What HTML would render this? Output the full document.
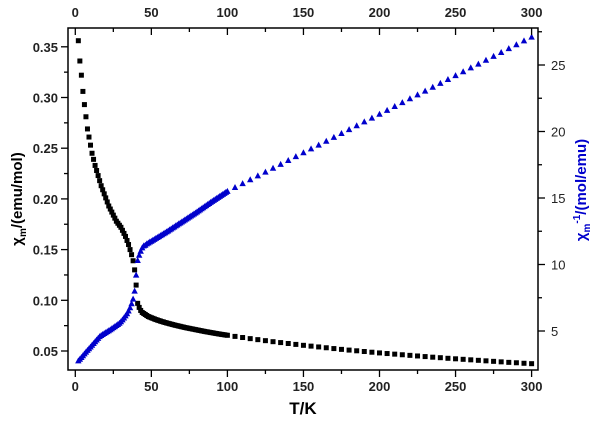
<!DOCTYPE html>
<html><head><meta charset="utf-8"><style>
body{margin:0;background:#fff}
svg{display:block;font-family:"Liberation Sans",Arial,sans-serif}
</style></head><body>
<svg id="chart" width="600" height="422" viewBox="0 0 600 422" xmlns="http://www.w3.org/2000/svg"></svg>
<script>
const chiT=[2,3,4,5,6,7,8,9,10,11,12,13,14,15,16,17,18,19,20,21,22,23,24,25,26,27,28,29,30,31,32,33,34,35,36,37,38,39,40,41,42,43,44,45,46,47,48,49,50,51,52,53,54,55,56,57,58,59,60,61,62,63,64,65,66,67,68,69,70,71,72,73,74,75,76,77,78,79,80,81,82,83,84,85,86,87,88,89,90,91,92,93,94,95,96,97,98,99,100,105,110,115,120,125,130,135,140,145,150,155,160,165,170,175,180,185,190,195,200,205,210,215,220,225,230,235,240,245,250,255,260,265,270,275,280,285,290,295,300];
const chiVals=[.356,.336,.322,.306,.293,.281,.269,.261,.253,.245,.239,.233,.228,.223,.218,.213,.209,.205,.201,.197,.193,.190,.187,.184,.181,.178,.176,.174,.172,.169,.166,.163,.159,.155,.150,.145,.139,.130,.115,.097,.093,.090,.088,.087,.086,.085,.084,.0834,.0828,.0822,.0816,.0810,.0805,.0800,.0795,.0790,.0786,.0781,.0777,.0773,.0769,.0765,.0761,.0757,.0753,.0750,.0746,.0743,.0739,.0736,.0732,.0729,.0726,.0723,.0720,.0717,.0714,.0711,.0708,.0705,.0702,.0699,.0696,.0693,.0690,.0688,.0685,.0682,.0680,.0677,.0674,.0672,.0669,.0667,.0664,.0662,.0660,.0657,.0655,.0644,.0633,.0622,.0612,.0602,.0592,.0583,.0574,.0565,.0556,.0548,.0540,.0532,.0524,.0516,.0509,.0502,.0495,.0488,.0481,.0475,.0469,.0463,.0457,.0451,.0445,.0439,.0434,.0428,.0423,.0418,.0413,.0408,.0403,.0398,.0393,.0388,.0384,.0379,.0375];
const invT=[2,3,4,5,6,7,8,9,10,11,12,13,14,15,16,17,18,19,20,21,22,23,24,25,26,27,28,29,30,31,32,33,34,35,36,37,38,39,40,41,42,43,44,45,46,47,48,49,50,51,52,53,54,55,56,57,58,59,60,61,62,63,64,65,66,67,68,69,70,71,72,73,74,75,76,77,78,79,80,81,82,83,84,85,86,87,88,89,90,91,92,93,94,95,96,97,98,99,100,105,110,115,120,125,130,135,140,145,150,155,160,165,170,175,180,185,190,195,200,205,210,215,220,225,230,235,240,245,250,255,260,265,270,275,280,285,290,295,300];
const invVals=[2.75,2.88,3.01,3.14,3.28,3.41,3.54,3.67,3.80,3.93,4.06,4.19,4.32,4.45,4.58,4.66,4.74,4.81,4.88,4.95,5.02,5.09,5.17,5.25,5.33,5.41,5.49,5.58,5.7,5.84,5.98,6.14,6.3,6.5,6.75,7.05,7.4,8.0,9.2,10.3,10.7,11.0,11.25,11.4,11.45,11.55,11.62,11.69,11.75,11.82,11.89,11.96,12.03,12.1,12.17,12.24,12.31,12.38,12.45,12.52,12.6,12.67,12.75,12.82,12.9,12.97,13.05,13.12,13.2,13.27,13.35,13.42,13.5,13.57,13.65,13.72,13.8,13.87,13.95,14.03,14.11,14.19,14.27,14.35,14.43,14.51,14.59,14.67,14.75,14.82,14.9,14.97,15.05,15.12,15.2,15.27,15.35,15.42,15.5,15.79,16.08,16.37,16.66,16.95,17.24,17.53,17.82,18.11,18.4,18.69,18.98,19.27,19.56,19.85,20.14,20.43,20.72,21.01,21.3,21.59,21.88,22.17,22.46,22.75,23.04,23.33,23.62,23.91,24.2,24.49,24.78,25.07,25.36,25.65,25.94,26.23,26.52,26.81,27.1];
const xTicks=[0,50,100,150,200,250,300];
const yLTicks=[0.05,0.10,0.15,0.20,0.25,0.30,0.35];
const yRTicks=[5,10,15,20,25];

const NS="http://www.w3.org/2000/svg";
const svg=document.getElementById('chart');
const L=68,R=538,T=28,B=370;
const x=v=>75.3+v*1.521;
const yL=v=>351-(v-0.05)/0.05*50.7;
const yR=v=>331-(v-5)*13.3;
function mk(tag,attrs,parent){const e=document.createElementNS(NS,tag);for(const k in attrs)e.setAttribute(k,attrs[k]);(parent||svg).appendChild(e);return e;}

const marksC=mk('g',{});


chiT.forEach((t,i)=>{const r=mk('rect',{x:x(t)-2.5,y:yL(chiVals[i])-2.5,width:5,height:5,fill:'#000'},marksC);

});
const marksI=mk('g',{});


invT.forEach((t,i)=>{const cx=x(t),cy=yR(invVals[i]);const p=mk('polygon',{points:`${cx},${cy-3.5} ${cx-3.2},${cy+2.5} ${cx+3.2},${cy+2.5}`,fill:'#0000cc'},marksI);

});

const frame=mk('rect',{x:L,y:T,width:R-L,height:B-T,fill:'none',stroke:'#000','stroke-width':1.5});



const ax=mk('g',{stroke:'#000','stroke-width':1.3});


for(let v=0;v<=300;v+=25){const big=v%50===0;const xx=x(v);
 mk('line',{x1:xx,x2:xx,y1:B,y2:B+(big?7:4)},ax);
 mk('line',{x1:xx,x2:xx,y1:T,y2:T+(big?7:4)},ax);}
for(let v=0.05;v<=0.3501;v+=0.025){const big=Math.round(v*1000)%50===0;const yy=yL(v);mk('line',{x1:L,x2:L-(big?7:4),y1:yy,y2:yy},ax);}
for(let v=5;v<=27.6;v+=2.5){const big=v%5===0;const yy=yR(v);mk('line',{x1:R,x2:R+(big?7:4),y1:yy,y2:yy},ax);}

const lab=mk('g',{'font-size':13,'font-weight':'bold',fill:'#222'});


xTicks.forEach(v=>{mk('text',{x:x(v),y:B+21,'text-anchor':'middle'},lab).textContent=v;
 mk('text',{x:x(v),y:17,'text-anchor':'middle'},lab).textContent=v;});
yLTicks.forEach(v=>{mk('text',{x:L-10,y:yL(v)+5,'text-anchor':'end'},lab).textContent=v.toFixed(2);});
const labR=mk('g',{'font-size':13,fill:'#222'});


yRTicks.forEach(v=>{mk('text',{x:R+13,y:yR(v)+5},labR).textContent=v;});

const xt=mk('text',{x:303,y:414,'text-anchor':'middle','font-size':17,'font-weight':'bold'});
xt.textContent='T/K';


const yt=mk('text',{transform:'translate(22,199) rotate(-90)','text-anchor':'middle','font-size':15,'font-weight':'bold'});
yt.innerHTML='χ<tspan font-size="10" dy="4">m</tspan><tspan dy="-4">/(emu/mol)</tspan>';


const yt2=mk('text',{transform:'translate(586,190) rotate(-90)','text-anchor':'middle','font-size':15,'font-weight':'bold',fill:'#0000cc'});
yt2.innerHTML='χ<tspan font-size="10" dy="4">m</tspan><tspan font-size="10" dy="-10">-1</tspan><tspan dy="6">/(mol/emu)</tspan>';


</script>
</body></html>
